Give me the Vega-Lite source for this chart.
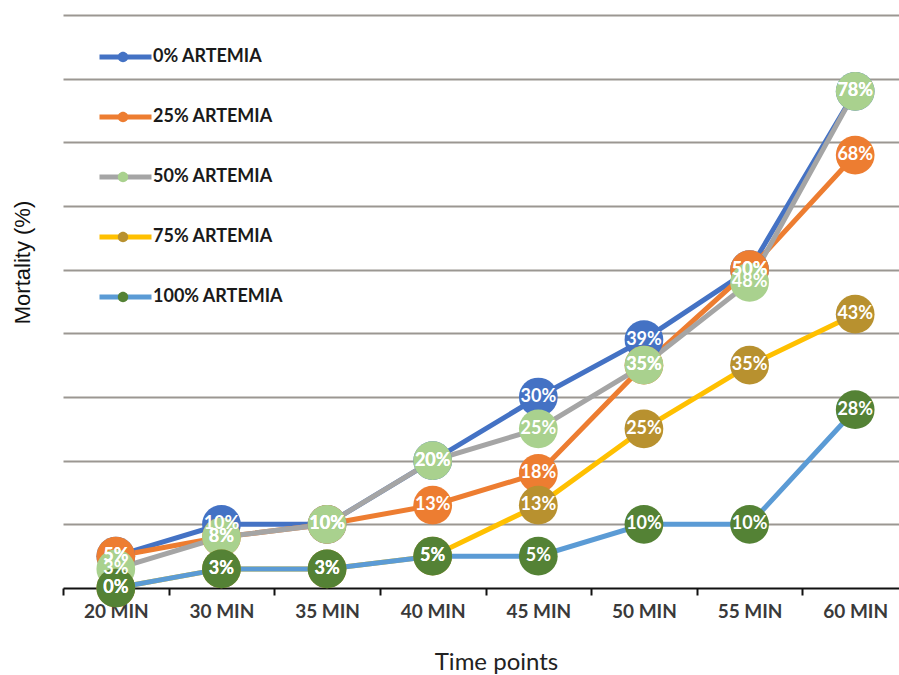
{
  "$schema": "https://vega.github.io/schema/vega-lite/v6.json",
  "width": 845,
  "height": 573,
  "autosize": {"type": "none"},
  "padding": {"left": 63, "top": 15, "right": 0, "bottom": 87},
  "background": "white",
  "config": {
    "view": {"stroke": null},
    "font": "Lato"
  },
  "data": {
    "values": [
      {"time": "20 MIN", "series": "0% ARTEMIA", "mortality": 5},
      {"time": "30 MIN", "series": "0% ARTEMIA", "mortality": 10},
      {"time": "35 MIN", "series": "0% ARTEMIA", "mortality": 10},
      {"time": "40 MIN", "series": "0% ARTEMIA", "mortality": 20},
      {"time": "45 MIN", "series": "0% ARTEMIA", "mortality": 30},
      {"time": "50 MIN", "series": "0% ARTEMIA", "mortality": 39},
      {"time": "55 MIN", "series": "0% ARTEMIA", "mortality": 50},
      {"time": "60 MIN", "series": "0% ARTEMIA", "mortality": 78},
      {"time": "20 MIN", "series": "25% ARTEMIA", "mortality": 5},
      {"time": "30 MIN", "series": "25% ARTEMIA", "mortality": 8},
      {"time": "35 MIN", "series": "25% ARTEMIA", "mortality": 10},
      {"time": "40 MIN", "series": "25% ARTEMIA", "mortality": 13},
      {"time": "45 MIN", "series": "25% ARTEMIA", "mortality": 18},
      {"time": "50 MIN", "series": "25% ARTEMIA", "mortality": 35},
      {"time": "55 MIN", "series": "25% ARTEMIA", "mortality": 50},
      {"time": "60 MIN", "series": "25% ARTEMIA", "mortality": 68},
      {"time": "20 MIN", "series": "50% ARTEMIA", "mortality": 3},
      {"time": "30 MIN", "series": "50% ARTEMIA", "mortality": 8},
      {"time": "35 MIN", "series": "50% ARTEMIA", "mortality": 10},
      {"time": "40 MIN", "series": "50% ARTEMIA", "mortality": 20},
      {"time": "45 MIN", "series": "50% ARTEMIA", "mortality": 25},
      {"time": "50 MIN", "series": "50% ARTEMIA", "mortality": 35},
      {"time": "55 MIN", "series": "50% ARTEMIA", "mortality": 48},
      {"time": "60 MIN", "series": "50% ARTEMIA", "mortality": 78},
      {"time": "20 MIN", "series": "75% ARTEMIA", "mortality": 0},
      {"time": "30 MIN", "series": "75% ARTEMIA", "mortality": 3},
      {"time": "35 MIN", "series": "75% ARTEMIA", "mortality": 3},
      {"time": "40 MIN", "series": "75% ARTEMIA", "mortality": 5},
      {"time": "45 MIN", "series": "75% ARTEMIA", "mortality": 13},
      {"time": "50 MIN", "series": "75% ARTEMIA", "mortality": 25},
      {"time": "55 MIN", "series": "75% ARTEMIA", "mortality": 35},
      {"time": "60 MIN", "series": "75% ARTEMIA", "mortality": 43},
      {"time": "20 MIN", "series": "100% ARTEMIA", "mortality": 0},
      {"time": "30 MIN", "series": "100% ARTEMIA", "mortality": 3},
      {"time": "35 MIN", "series": "100% ARTEMIA", "mortality": 3},
      {"time": "40 MIN", "series": "100% ARTEMIA", "mortality": 5},
      {"time": "45 MIN", "series": "100% ARTEMIA", "mortality": 5},
      {"time": "50 MIN", "series": "100% ARTEMIA", "mortality": 10},
      {"time": "55 MIN", "series": "100% ARTEMIA", "mortality": 10},
      {"time": "60 MIN", "series": "100% ARTEMIA", "mortality": 28}
    ]
  },
  "encoding": {
    "x": {
      "field": "time",
      "type": "ordinal",
      "sort": ["20 MIN", "30 MIN", "35 MIN", "40 MIN", "45 MIN", "50 MIN", "55 MIN", "60 MIN"],
      "scale": {"type": "band", "paddingInner": 0, "paddingOuter": 0},
      "axis": {
        "title": "Time points",
        "labelAngle": 0,
        "labelFont": "Lato",
        "labelFontSize": 19,
        "labelFontWeight": "bold",
        "labelColor": "#3a3a3a",
        "labelPadding": 7,
        "tickBand": "extent",
        "tickColor": "#111111",
        "tickWidth": 2,
        "tickSize": 7,
        "domainColor": "#111111",
        "domainWidth": 2,
        "titleFont": "Lato",
        "titleFontSize": 24,
        "titleFontWeight": "normal",
        "titleColor": "#222222",
        "titleBaseline": "middle",
        "titleX": 433,
        "titleY": 74
      }
    },
    "y": {
      "field": "mortality",
      "type": "quantitative",
      "scale": {"domain": [0, 90], "nice": false},
      "axis": {
        "title": "Mortality (%)",
        "values": [10, 20, 30, 40, 50, 60, 70, 80, 90],
        "labels": false,
        "ticks": false,
        "domain": false,
        "grid": true,
        "gridColor": "#9b9792",
        "gridWidth": 2,
        "titleFont": "Liberation Sans",
        "titleFontSize": 22,
        "titleFontWeight": "normal",
        "titleColor": "#111111",
        "titleBaseline": "middle",
        "titleAngle": 270,
        "titleX": -41,
        "titleY": 247
      }
    }
  },
  "layer": [
    {
      "mark": {"type": "line", "strokeWidth": 5},
      "encoding": {
        "stroke": {
          "field": "series",
          "type": "nominal",
          "scale": {
            "domain": ["0% ARTEMIA", "25% ARTEMIA", "50% ARTEMIA", "75% ARTEMIA", "100% ARTEMIA"],
            "range": ["#4472C4", "#ED7D31", "#A5A5A5", "#FFC000", "#5B9BD5"]
          },
          "legend": {
            "title": null,
            "orient": "none",
            "legendX": 34,
            "legendY": 12,
            "padding": 0,
            "zindex": 1,
            "symbolType": "stroke",
            "symbolSize": 2704,
            "symbolStrokeWidth": 5,
            "labelExpr": "''",
            "labelFontSize": 18,
            "labelOffset": 4,
            "clipHeight": 60,
            "rowPadding": 0
          }
        }
      }
    },
    {
      "mark": {"type": "point", "shape": "circle", "filled": true, "size": 1500, "opacity": 1},
      "encoding": {
        "fill": {
          "field": "series",
          "type": "nominal",
          "sort": ["0% ARTEMIA", "25% ARTEMIA", "50% ARTEMIA", "75% ARTEMIA", "100% ARTEMIA"],
          "scale": {
            "range": ["#4472C4", "#ED7D31", "#A9D18E", "#B8912F", "#548235"]
          },
          "legend": {
            "title": null,
            "orient": "none",
            "legendX": 34,
            "legendY": 12,
            "padding": 0,
            "zindex": 2,
            "symbolType": "M-0.2,0A0.2,0.2,0,1,1,0.2,0A0.2,0.2,0,1,1,-0.2,0Z",
            "symbolSize": 2704,
            "symbolStrokeWidth": 0,
            "symbolOpacity": 1,
            "labelFont": "Lato",
            "labelFontSize": 18,
            "labelFontWeight": "bold",
            "labelColor": "#1a1a1a",
            "labelOffset": 4,
            "clipHeight": 60,
            "rowPadding": 0
          }
        }
      }
    },
    {
      "transform": [{"calculate": "datum.mortality + '%'", "as": "label"}],
      "mark": {
        "type": "text",
        "font": "Lato",
        "fontSize": 18,
        "fontWeight": "bold",
        "color": "white",
        "align": "center",
        "baseline": "middle"
      },
      "encoding": {
        "text": {"field": "label", "type": "nominal"}
      }
    }
  ]
}
